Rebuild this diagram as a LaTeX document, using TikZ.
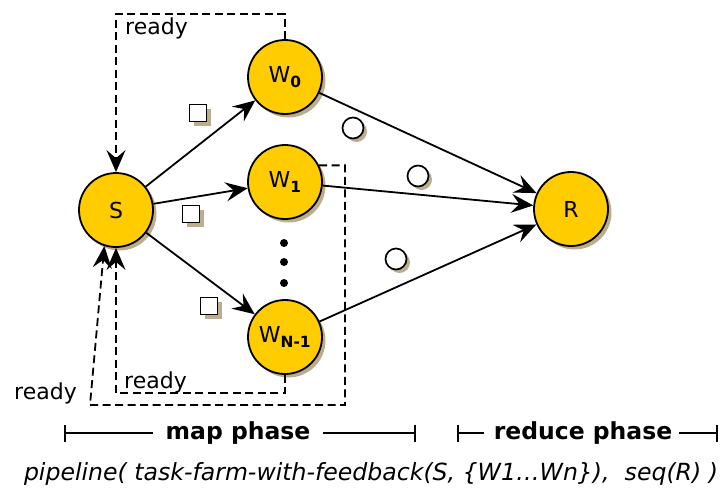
\documentclass[tikz,border=0pt]{standalone}
\usepackage{fontspec}
\setmainfont{DejaVu Sans}
\usetikzlibrary{arrows.meta,shadows,calc}
\definecolor{procfill}{HTML}{FFCC00}
\definecolor{shade}{HTML}{B3A582}

\begin{document}
\begin{tikzpicture}[x=1pt,y=-1pt,
  proc/.style={circle,draw=black,line width=1.8pt,fill=procfill,
    minimum size=74pt,inner sep=0pt,font=\fontsize{22}{26}\selectfont,
    drop shadow={shadow xshift=3.5pt,shadow yshift=-3.5pt,fill=shade,opacity=0.9}},
  task/.style={rectangle,draw=black,line width=1.8pt,fill=white,
    minimum size=17pt,inner sep=0pt,
    drop shadow={shadow xshift=4pt,shadow yshift=-4pt,fill=shade,opacity=0.9}},
  result/.style={circle,draw=black,line width=1.7pt,fill=white,
    minimum size=21pt,inner sep=0pt,
    drop shadow={shadow xshift=3.5pt,shadow yshift=-3.5pt,fill=shade,opacity=0.9}},
  dot/.style={circle,fill=black,minimum size=8pt,inner sep=0pt},
  flow/.style={-{Stealth[length=22pt,width=19pt,inset=8pt]},line width=1.8pt},
  feedback/.style={flow,dash pattern=on 8pt off 4.5pt},
  lbl/.style={font=\fontsize{22}{26}\selectfont,anchor=base west,inner sep=0pt},
  phase/.style={font=\bfseries\fontsize{23.5}{27}\selectfont,inner sep=0pt},
  span/.style={line width=1.7pt},
  spanend/.style={span,{Bar[width=17pt]}-}
]
\useasboundingbox (0,0) rectangle (721,493);

% processes
\node[proc] (S)  at (116,210) {S};
\node[proc] (W0) at (285,77)  {W\textsubscript{\textbf{0}}};
\node[proc] (W1) at (285,182) {W\textsubscript{\textbf{1}}};
\node[proc] (WN) at (285,337) {W\textsubscript{\textbf{N-1}}};
\node[proc] (R)  at (571,209) {R};

% elided workers
\node[dot] (d1) at (284,243) {};
\node[dot] (d2) at (284,262) {};
\node[dot] (d3) at (284,283) {};

% scatter and gather
\draw[flow] (S) -- (W0);
\draw[flow] (S) -- (W1);
\draw[flow] (S) -- (WN);
\draw[flow] (W0) -- (R);
\draw[flow] (W1) -- (R);
\draw[flow] (WN) -- (R);

% tasks and results in flight
\node[task] (t0) at (198,113) {};
\node[task] (t1) at (191,214) {};
\node[task] (t2) at (209,306) {};
\node[result] (r0) at (353,128) {};
\node[result] (r1) at (418,176) {};
\node[result] (r2) at (396,259) {};

% feedback channels
\coordinate (topbend) at (116,14);
\draw[feedback] (W0.north) |- (topbend) -- (S.north);
\coordinate (w1down) at (345,405);
\coordinate (w1left) at (90,405);
\draw[feedback] (W1.26) -| (w1down) -- (w1left) -- (S.252);
\coordinate (wnleft) at (116,393);
\draw[feedback] (WN.south) |- (wnleft) -- (S.south);

\node[lbl] (ready0) at (125,34)  {ready};
\node[lbl] (readyN) at (124,388) {ready};
\node[lbl] (ready1) at (14,399)  {ready};

% phases
\node[phase] (map) at (238,433) {map phase};
\coordinate (mapL) at (64,433);
\coordinate (mapR) at (416,433);
\draw[spanend] (mapL) -- ($(map.west)+(-12,0)$);
\draw[spanend] (mapR) -- ($(map.east)+(12,0)$);
\node[phase] (red) at (583,433) {reduce phase};
\coordinate (redL) at (457,433);
\coordinate (redR) at (718,433);
\draw[spanend] (redL) -- ($(red.west)+(-10,0)$);
\draw[spanend] (redR) -- ($(red.east)+(7,0)$);

\node[font=\itshape\fontsize{23.6}{27}\selectfont,inner sep=0pt,anchor=base] (expr) at (371,480)
  {pipeline( task-farm-with-feedback(S, \{W1…Wn\}), \ seq(R) )};
\end{tikzpicture}
\end{document}
